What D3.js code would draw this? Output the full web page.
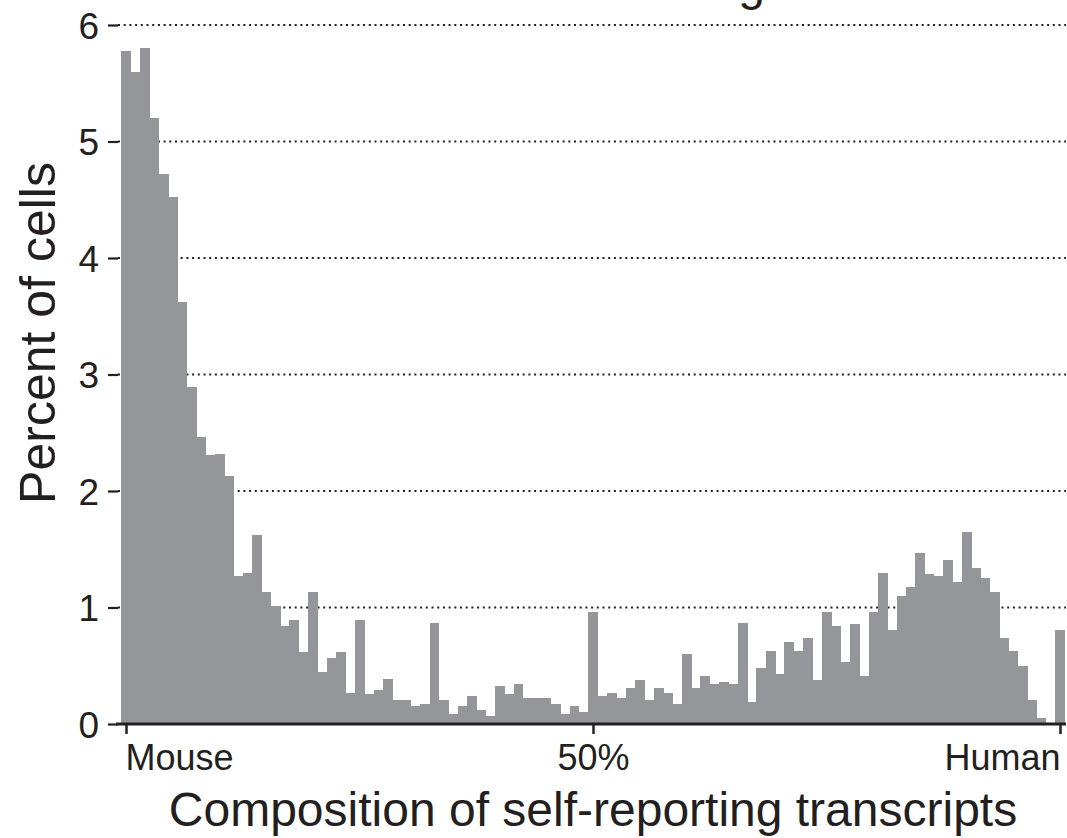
<!DOCTYPE html>
<html>
<head>
<meta charset="utf-8">
<script src="https://cdn.jsdelivr.net/npm/d3@7"></script>
<style>
  html, body { margin: 0; padding: 0; background: #fff; }
  svg { display: block; }
  text { font-family: "Liberation Sans", Arial, Helvetica, sans-serif; fill: #231f20; }
</style>
</head>
<body>
<svg id="chart" width="1067" height="838"></svg>
<script>
// Percent of cells per 1% bin of human-transcript fraction (0 = Mouse, 1 = Human)
const percentValues = [
  5.78, 5.60, 5.80, 5.20, 4.72, 4.52, 3.62, 2.89, 2.46, 2.31,
  2.32, 2.13, 1.27, 1.30, 1.62, 1.13, 1.01, 0.84, 0.89, 0.62,
  1.13, 0.45, 0.57, 0.62, 0.27, 0.89, 0.26, 0.29, 0.39, 0.21,
  0.21, 0.155, 0.17, 0.87, 0.21, 0.085, 0.155, 0.24, 0.12, 0.07,
  0.33, 0.26, 0.34, 0.22, 0.22, 0.22, 0.17, 0.085, 0.155, 0.10,
  0.96, 0.24, 0.27, 0.22, 0.31, 0.38, 0.21, 0.31, 0.27, 0.17,
  0.60, 0.31, 0.41, 0.34, 0.36, 0.34, 0.87, 0.19, 0.48, 0.63,
  0.43, 0.70, 0.63, 0.74, 0.38, 0.96, 0.84, 0.53, 0.86, 0.41,
  0.96, 1.30, 0.81, 1.10, 1.18, 1.47, 1.29, 1.27, 1.41, 1.22,
  1.65, 1.34, 1.25, 1.13, 0.74, 0.63, 0.50, 0.21, 0.05, 0.00,
  0.81
];
const binWidth = 0.01;
const xTickValues = [0, 0.5, 1];
const xTickLabels = ["Mouse", "50%", "Human"];
const yTickValues = [0, 1, 2, 3, 4, 5, 6];
const titleText = "After sorting";
const xAxisTitle = "Composition of self-reporting transcripts";
const yAxisTitle = "Percent of cells";

const bins = percentValues.map((v, i) => ({ center: i * binWidth, value: v }));

const svg = d3.select("#chart");
const x = d3.scaleLinear().domain([0, 1]).range([126, 1060]);
const y = d3.scaleLinear().domain([0, 6]).range([724, 25]);

const gridLeft = 118, gridRight = 1066;

// gridlines (dotted)
svg.append("g").selectAll("line").data(yTickValues.filter(d => d > 0)).join("line")
  .attr("x1", gridLeft).attr("x2", gridRight)
  .attr("y1", d => y(d)).attr("y2", d => y(d))
  .attr("stroke", "#231f20").attr("stroke-width", 2)
  .attr("stroke-dasharray", "2,3.7");

// bars
svg.append("g").attr("shape-rendering", "crispEdges")
  .selectAll("rect").data(bins).join("rect")
  .attr("x", d => x(d.center - binWidth / 2))
  .attr("width", d => x(d.center + binWidth / 2) - x(d.center - binWidth / 2) + 0.5)
  .attr("y", d => y(d.value))
  .attr("height", d => y(0) - y(d.value))
  .attr("fill", "#959699");

// y axis (ticks only, no domain line)
const yAxis = d3.axisLeft(y).tickValues(yTickValues).tickSize(10).tickPadding(9).tickFormat(d3.format("d"));
const gy = svg.append("g").attr("transform", `translate(${gridLeft},0)`).call(yAxis);
gy.select(".domain").remove();
gy.selectAll(".tick line").attr("stroke", "#231f20").attr("stroke-width", 2.2);
gy.selectAll(".tick text").attr("font-size", 37).attr("fill", "#231f20")
  .attr("font-family", "Liberation Sans, Arial, sans-serif").attr("dy", "0.36em");

// x axis
const xAxis = d3.axisBottom(x).tickValues(xTickValues).tickSize(10).tickPadding(10)
  .tickFormat((d, i) => xTickLabels[i]);
const gx = svg.append("g").attr("transform", `translate(0,${y(0)})`).call(xAxis);
gx.select(".domain").remove();
gx.append("line").attr("x1", 116).attr("x2", gridRight).attr("y1", 0).attr("y2", 0)
  .attr("stroke", "#231f20").attr("stroke-width", 3);
gx.selectAll(".tick line").attr("stroke", "#231f20").attr("stroke-width", 2.5);
gx.selectAll(".tick text").attr("font-size", 36).attr("fill", "#231f20")
  .attr("font-family", "Liberation Sans, Arial, sans-serif")
  .attr("text-anchor", (d, i) => i === 0 ? "start" : (i === xTickLabels.length - 1 ? "end" : "middle"))
  .attr("dx", (d, i) => i === 0 ? -1 : 0)
  .attr("y", 20).attr("dy", "0.71em");

// axis titles
svg.append("text").attr("x", 593).attr("y", 826).attr("text-anchor", "middle")
  .attr("font-size", 48).text(xAxisTitle);
svg.append("text").attr("transform", "translate(55,333) rotate(-90)")
  .attr("text-anchor", "middle").attr("font-size", 50).text(yAxisTitle);

// title (mostly above the visible area, as in the reference)
svg.append("text").attr("x", 765).attr("y", 0).attr("text-anchor", "end")
  .attr("font-size", 48).text(titleText);
</script>
</body>
</html>
